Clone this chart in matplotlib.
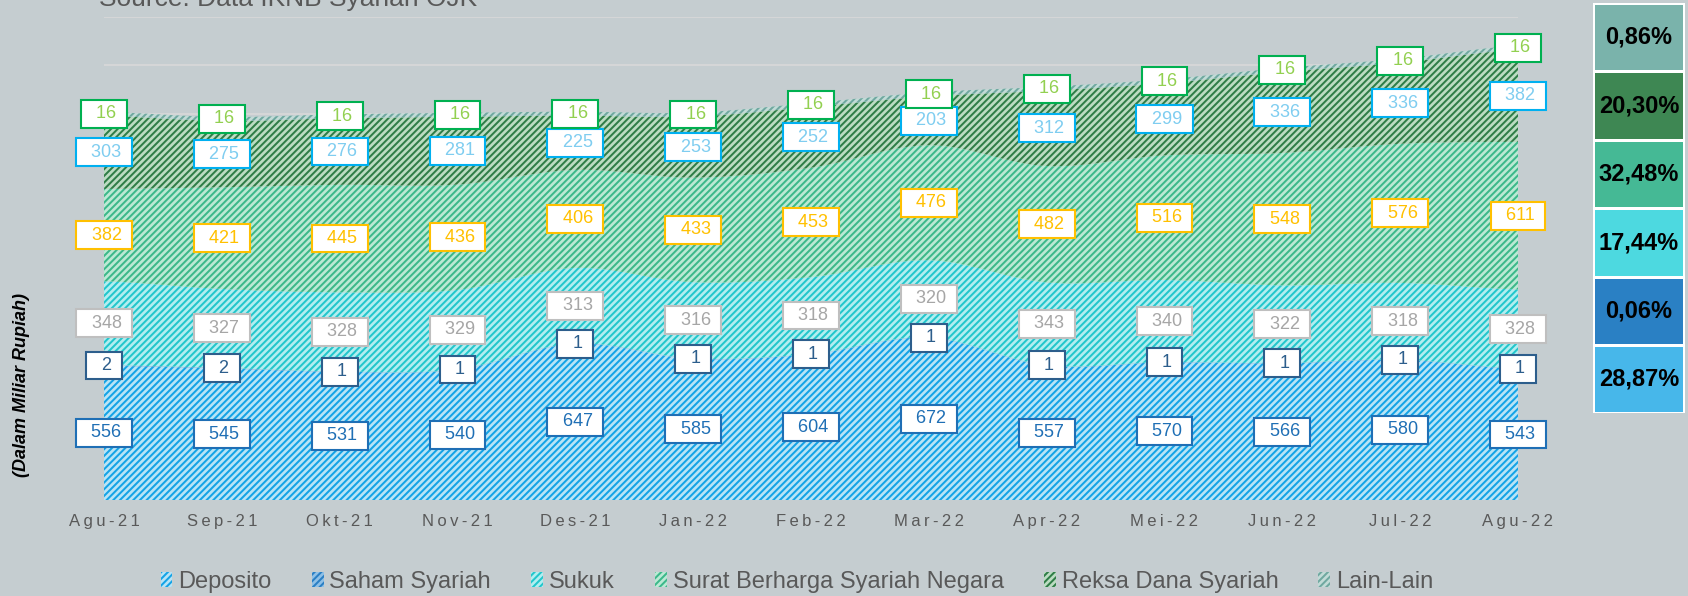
import numpy as np
import matplotlib
matplotlib.use("Agg")
from matplotlib import pyplot as plt
from matplotlib.patches import Patch, Rectangle

months = ["Agu-21", "Sep-21", "Okt-21", "Nov-21", "Des-21", "Jan-22", "Feb-22",
          "Mar-22", "Apr-22", "Mei-22", "Jun-22", "Jul-22", "Agu-22"]
deposito = [556, 545, 531, 540, 647, 585, 604, 672, 557, 570, 566, 580, 543]
saham = [2, 2, 1, 1, 1, 1, 1, 1, 1, 1, 1, 1, 1]
sukuk = [348, 327, 328, 329, 313, 316, 318, 320, 343, 340, 322, 318, 328]
sbsn = [382, 421, 445, 436, 406, 433, 453, 476, 482, 516, 548, 576, 611]
reksa = [303, 275, 276, 281, 225, 253, 252, 203, 312, 299, 336, 336, 382]
lain = [16, 16, 16, 16, 16, 16, 16, 16, 16, 16, 16, 16, 16]
names = ["Deposito", "Saham Syariah", "Sukuk", "Surat Berharga Syariah Negara",
         "Reksa Dana Syariah", "Lain-Lain"]
shares = ["0,86%", "20,30%", "32,48%", "17,44%", "0,06%", "28,87%"]  # top to bottom

bg = "#c5cdd0"
hatch_col = ["#14a3e6", "#2a7fc4", "#22c6cc", "#3cb88a", "#2f7d47", "#6fa8a0"]
pale_col = ["#b8e4f6", "#8fc0e6", "#b2eef0", "#bbe9d4", "#bcdcc2", "#c2dbd7"]
lbl_edge = ["#1f6fb5", "#2d5e8c", "#bfbfbf", "#ffc000", "#00b0f0", "#00b050"]
lbl_text = ["#1f6fb5", "#2d5e8c", "#a6a6a6", "#ffc000", "#7fcdf0", "#92d050"]
panel_col = ["#7ab3ab", "#3e8753", "#45b995", "#4dd9e0", "#2a80c4", "#47b7ea"]

plt.rcParams['font.family'] = ['Liberation Sans', 'DejaVu Sans']
plt.rcParams['hatch.linewidth'] = 1.45


def smooth(y, n=30):
    y = np.asarray(y, dtype=float)
    p = np.concatenate([[y[0]], y, [y[-1]]])
    xs, ys = [], []
    t = np.linspace(0, 1, n, endpoint=False)
    for i in range(len(y) - 1):
        p0, p1, p2, p3 = p[i], p[i + 1], p[i + 2], p[i + 3]
        ys.append(0.5 * (2 * p1 + (-p0 + p2) * t + (2 * p0 - 5 * p1 + 4 * p2 - p3) * t ** 2
                         + (-p0 + 3 * p1 - 3 * p2 + p3) * t ** 3))
        xs.append(i + t)
    xs.append([len(y) - 1])
    ys.append([y[-1]])
    return np.concatenate(xs), np.concatenate(ys)


fig = plt.figure(figsize=(16.88, 5.96), dpi=100, facecolor=bg)
ax = fig.add_axes([104 / 1688, 1 - 500 / 596, 1414 / 1688, 483 / 596])
ax.set_facecolor(bg)

series = [deposito, saham, sukuk, sbsn, reksa, lain]
x = np.arange(len(months))
base = np.zeros(len(months))
for i, s in enumerate(series):
    top = base + np.array(s)
    xs, lo = smooth(base)
    _, hi = smooth(top)
    if i == 0:
        lo = np.zeros_like(hi)
    ax.fill_between(xs, lo, hi, facecolor=pale_col[i], edgecolor=hatch_col[i],
                    hatch="/////", linewidth=0, zorder=2)
    mid = base + np.array(s) / 2
    for xi, yi, v in zip(x, mid, s):
        ax.text(xi, yi, f"  {v} ", ha="center", va="center", fontsize=13,
                color=lbl_text[i], zorder=5,
                bbox=dict(boxstyle="square,pad=0.3", fc="white", ec=lbl_edge[i], lw=1.5))
    base = top

ax.set_xlim(0, 12)
ax.set_ylim(0, 2000)
ax.set_yticks(np.arange(0, 2001, 200))
ax.set_yticklabels([])
ax.grid(axis="y", color="#d9d9d9", lw=1.2, zorder=0)
ax.set_axisbelow(True)
ax.tick_params(axis="y", length=0)
ax.set_xticks(x)
ax.set_xticklabels(["\u2009".join(m) for m in months], fontsize=12, color="#595959")
ax.tick_params(axis="x", length=0, pad=10)
for sp in ax.spines.values():
    sp.set_visible(False)

# source line (cut by the top edge, as in the original)
fig.text(99 / 1688, 1 - 6 / 596, "Source: Data IKNB Syariah OJK", fontsize=19,
         color="#595959", va="baseline", ha="left")

# y label
fig.text(22 / 1688, 1 - 385 / 596, "(Dalam Miliar Rupiah)", rotation=90, fontsize=13,
         fontweight="bold", fontstyle="italic", color="black", ha="center", va="center")

# legend
handles = [Patch(facecolor=pale_col[i], edgecolor=hatch_col[i], hatch="/////", lw=0)
           for i in range(len(names))]
fig.legend(handles, names, loc="center", bbox_to_anchor=(797 / 1688, 1 - 582 / 596),
           ncol=6, frameon=False, fontsize=17, labelcolor="#595959",
           handlelength=0.5, handleheight=0.6, handletextpad=0.25, columnspacing=1.7)

# share panel on the right
px0, px1 = 1593 / 1688, 1685 / 1688
edges = [3, 71.5, 140, 208.5, 277, 345, 413]
fig.patches.append(Rectangle((px0, 1 - edges[-1] / 596), px1 - px0,
                             (edges[-1] - edges[0]) / 596, transform=fig.transFigure,
                             facecolor="white", edgecolor="none"))
for k in range(6):
    y0 = 1 - (edges[k + 1] - 1.5) / 596
    h = (edges[k + 1] - edges[k] - 3) / 596
    fig.patches.append(Rectangle((px0 + 2 / 1688, y0), px1 - px0 - 4 / 1688, h,
                                 transform=fig.transFigure, facecolor=panel_col[k],
                                 edgecolor="none"))
    fig.text((px0 + px1) / 2, y0 + h / 2, shares[k], fontsize=17, fontweight="bold",
             color="black", ha="center", va="center")

fig.savefig("out.png", dpi=100, facecolor=bg)
